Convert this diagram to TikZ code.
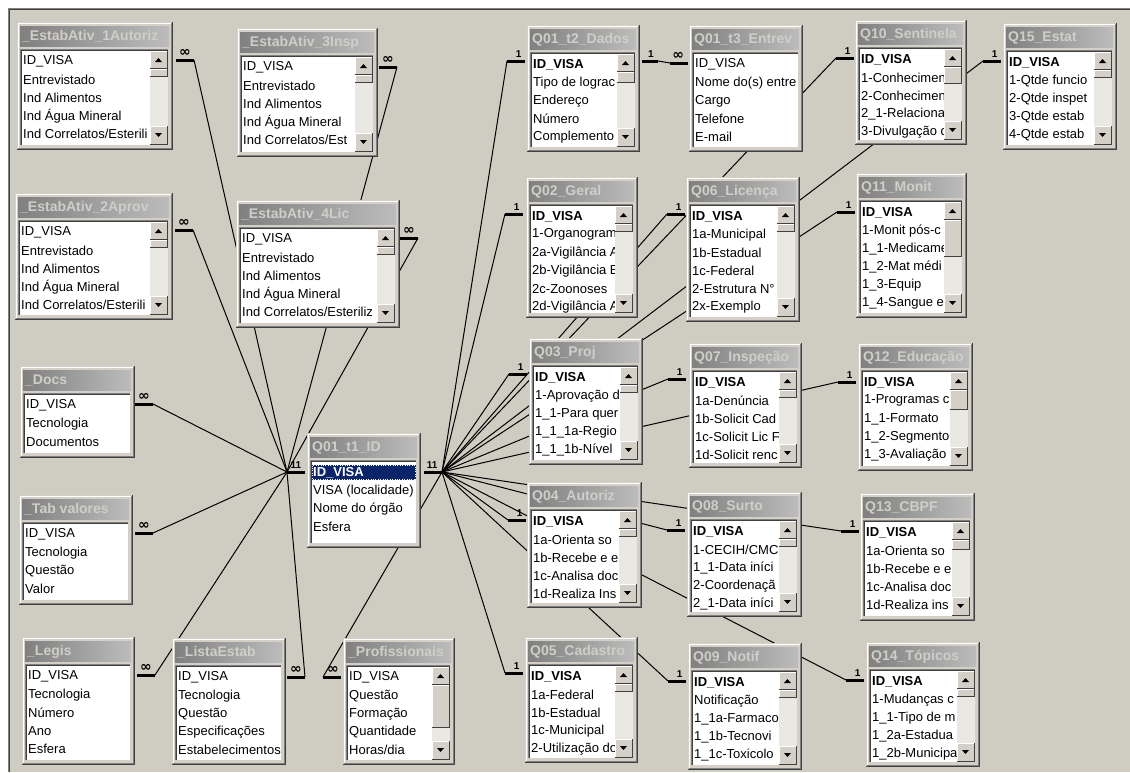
\documentclass[tikz,border=0pt]{standalone}
\usepackage{fontspec}
\setmainfont{Liberation Sans}
\newfontfamily\infont{DejaVu Sans}
\newcommand{\manysign}{{\infont\bfseries\fontsize{14}{14}\selectfont ∞}}

\definecolor{deskbg}{RGB}{207,204,194}
\definecolor{winface}{RGB}{212,208,200}
\definecolor{edgemid}{RGB}{128,128,128}
\definecolor{edgedark}{RGB}{64,64,64}
\definecolor{titleL}{RGB}{128,128,128}
\definecolor{titleR}{RGB}{188,188,188}
\definecolor{titletext}{RGB}{208,206,200}
\definecolor{track}{RGB}{234,232,227}
\definecolor{selblue}{RGB}{10,36,106}

\tikzset{
  tabframe/.style={fill=winface, inner sep=0pt, outer sep=0pt, anchor=north west},
  tabtitle/.style={font=\bfseries\fontsize{14}{14}\selectfont, text=titletext, anchor=west, inner sep=0pt},
  field/.style={font=\fontsize{13}{13}\selectfont, anchor=west, inner sep=0pt},
  rel/.style={line width=1pt},
  stub/.style={line width=3pt},
  card/.style={font=\bfseries\fontsize{10}{10}\selectfont, inner sep=0pt, anchor=south, yshift=2.5pt}
}

% raised 3d button between (#1,#2) and (#3,#4)
\newcommand{\bevel}[4]{%
  \fill[winface] (#1,#2) rectangle (#3,#4);
  \draw[white] (#1+0.5,#4-1) -- (#1+0.5,#2+0.5) -- (#3-1,#2+0.5);
  \draw[edgedark] (#3-0.5,#2) -- (#3-0.5,#4-0.5) -- (#1,#4-0.5);
}

% table window: name, x, y, width, height, title, thumb (0 = no scroll bar), fields
\newcommand{\acctable}[8]{%
  \pgfmathsetmacro\tbR{#2+#4}%
  \pgfmathsetmacro\tbB{#3+#5}%
  \pgfmathsetmacro\tbLx{#2+3}%
  \pgfmathsetmacro\tbLy{#3+27}%
  \pgfmathsetmacro\tbLr{#2+#4-4}%
  \pgfmathsetmacro\tbLb{#3+#5-4}%
  \pgfmathsetmacro\tbSx{\tbLr-19}%
  \pgfmathsetmacro\tbCx{\tbSx+8.5}%
  \pgfmathsetmacro\tbUb{\tbLy+20}%
  \pgfmathsetmacro\tbTb{\tbUb+#7}%
  \pgfmathsetmacro\tbDt{\tbLb-20}%
  \ifnum#7>0\relax\pgfmathsetmacro\tbClip{\tbSx-0.5}\else\pgfmathsetmacro\tbClip{\tbLr-2}\fi
  \node[tabframe, minimum width=#4pt, minimum height=#5pt] (#1) at (#2,#3) {};
  \draw[white] (#2+1,\tbB-2) -- (#2+1,#3+1) -- (\tbR-2,#3+1);
  \draw[edgemid] (\tbR-1.5,#3+1) -- (\tbR-1.5,\tbB-1.5) -- (#2+1,\tbB-1.5);
  \draw[edgedark] (\tbR-0.5,#3) -- (\tbR-0.5,\tbB-0.5) -- (#2,\tbB-0.5);
  % title bar
  \shade[left color=titleL, right color=titleR] (#2+3,#3+4) rectangle (\tbR-4,#3+24);
  \begin{scope}
    \clip (#2+3,#3+4) rectangle (\tbR-4,#3+24);
    \node[tabtitle] (#1-title) at (#2+5,#3+14.5) {#6};
  \end{scope}
  % list box
  \fill[white] (\tbLx,\tbLy) rectangle (\tbLr,\tbLb);
  \draw[edgemid] (\tbLx+0.5,\tbLb) -- (\tbLx+0.5,\tbLy+0.5) -- (\tbLr,\tbLy+0.5);
  \draw[edgedark] (\tbLx+1.5,\tbLb-1) -- (\tbLx+1.5,\tbLy+1.5) -- (\tbLr-1,\tbLy+1.5);
  \draw[winface] (\tbLr-0.5,\tbLy) -- (\tbLr-0.5,\tbLb-0.5) -- (\tbLx,\tbLb-0.5);
  % scroll bar
  \ifnum#7>0\relax
    \fill[track] (\tbSx,\tbLy+2) rectangle (\tbLr-1.5,\tbLb-1.5);
    \bevel{\tbSx}{\tbLy+2}{\tbLr-1.5}{\tbUb}
    \bevel{\tbSx}{\tbUb}{\tbLr-1.5}{\tbTb}
    \bevel{\tbSx}{\tbDt}{\tbLr-1.5}{\tbLb-1.5}
    \fill (\tbCx-3.5,\tbLy+13) -- (\tbCx+3.5,\tbLy+13) -- (\tbCx,\tbLy+9) -- cycle;
    \fill (\tbCx-3.5,\tbDt+7) -- (\tbCx+3.5,\tbDt+7) -- (\tbCx,\tbDt+11) -- cycle;
  \fi
  % fields
  \begin{scope}
    \clip (\tbLx+2,\tbLy+2) rectangle (\tbClip,\tbLb-1.5);
    \foreach \f [count=\i from 0] in {#8}
      \node[field] (#1-f\i) at (#2+6,#3+39.5+18.2*\i) {\f};
  \end{scope}
}

\begin{document}
\begin{tikzpicture}[x=1pt, y=-1pt]
  \useasboundingbox (0,0) rectangle (1130,772);
  \fill[white] (0,0) rectangle (1130,772);
  \fill[deskbg] (9,9) rectangle (1130,772);
  \draw[edgemid] (8.5,772) -- (8.5,8.5) -- (1130,8.5);
  \draw[edgedark] (9.5,772) -- (9.5,9.5) -- (1130,9.5);

  % join points
  \coordinate (hubL) at (287,472);
  \coordinate (hubR) at (442,472);
  \coordinate (e-ea1) at (194,60);
  \coordinate (e-ea3) at (397,67);
  \coordinate (e-ea2) at (193,230);
  \coordinate (e-ea4) at (418,238);
  \coordinate (e-docs) at (153,404);
  \coordinate (e-tabval) at (153,533);
  \coordinate (e-legis) at (155,675);
  \coordinate (e-lista) at (305,677);
  \coordinate (e-prof) at (323,677);
  \coordinate (e-t2) at (507,61);
  \coordinate (e-t2r) at (658,61);
  \coordinate (e-t3) at (670,63);
  \coordinate (e-q02) at (505,214);
  \coordinate (e-q03) at (509,374);
  \coordinate (e-q04) at (508,520);
  \coordinate (e-q05) at (505,673);
  \coordinate (e-q06) at (667,214);
  \coordinate (e-q07) at (668,379);
  \coordinate (e-q08) at (667,530);
  \coordinate (e-q09) at (668,681);
  \coordinate (e-q10) at (836,58);
  \coordinate (e-q11) at (837,212);
  \coordinate (e-q12) at (838,382);
  \coordinate (e-q13) at (841,531);
  \coordinate (e-q14) at (846,680);
  \coordinate (e-q15) at (983,61);

  % relationships
  \foreach \tn in {ea1,ea2,ea3,ea4,docs,tabval,legis,lista}
    \draw[rel] (hubL) -- (e-\tn);
  \foreach \tn in {t2,q02,q03,q04,q05,q06,q07,q08,q09,q10,q11,q12,q13,q14,q15,prof}
    \draw[rel] (hubR) -- (e-\tn);
  \draw[rel] (e-t2r) -- (e-t3);

  % end marks
  \foreach \tn in {t2,q02,q03,q04,q05,q06,q07,q08,q09,q10,q11,q12,q13,q14,q15}
    \draw[stub] (e-\tn) -- ++(18,0) node[card, pos=0.65] (c-\tn) {1};
  \foreach \tn in {ea1,ea2,ea3,ea4,docs,tabval,legis,lista}
    \draw[stub] (e-\tn) -- ++(-18,0) node[card, pos=0.5] (c-\tn) {\manysign};
  \draw[stub] (e-prof) -- ++(18,0) node[card, pos=0.55] (c-prof) {\manysign};
  \draw[stub] (e-t3) -- ++(18,0) node[card, pos=0.45] (c-t3) {\manysign};
  \draw[stub] (e-t2r) -- ++(-16,0) node[card, pos=0.45] (c-t2r) {1};
  \draw[stub] (hubL) -- ++(18,0) node[card, pos=0.5] (c-hubL) {11};
  \draw[stub] (hubR) -- ++(-18,0) node[card, pos=0.55] (c-hubR) {11};

  % tables, left side
  \acctable{ea1}{17}{22}{156}{128}{\_EstabAtiv\_1Autoriz}{8}{ID\_VISA, Entrevistado, Ind Alimentos, Ind Água Mineral, Ind Correlatos/Esterili}
  \acctable{ea3}{237}{28}{141}{129}{\_EstabAtiv\_3Insp}{8}{ID\_VISA, Entrevistado, Ind Alimentos, Ind Água Mineral, Ind Correlatos/Est}
  \acctable{ea2}{15}{193}{158}{127}{\_EstabAtiv\_2Aprov}{8}{ID\_VISA, Entrevistado, Ind Alimentos, Ind Água Mineral, Ind Correlatos/Esterili}
  \acctable{ea4}{236}{200}{164}{128}{\_EstabAtiv\_4Lic}{8}{ID\_VISA, Entrevistado, Ind Alimentos, Ind Água Mineral, Ind Correlatos/Esteriliz}
  \acctable{docs}{20}{366}{115}{92}{\_Docs}{0}{ID\_VISA, Tecnologia, Documentos}
  \acctable{tabval}{19}{495}{114}{110}{\_Tab valores}{0}{ID\_VISA, Tecnologia, Questão, Valor}
  \acctable{legis}{22}{637}{113}{128}{\_Legis}{0}{ID\_VISA, Tecnologia, Número, Ano, Esfera}
  \acctable{lista}{172}{638}{114}{127}{\_ListaEstab}{0}{ID\_VISA, Tecnologia, Questão, Especificações, Estabelecimentos}
  \acctable{prof}{343}{638}{112}{127}{\_Profissionais}{43}{ID\_VISA, Questão, Formação, Quantidade, Horas/dia}

  % central table
  \acctable{t1}{307}{433}{114}{115}{Q01\_t1\_ID}{0}{ID\_VISA, VISA (localidade), Nome do órgão, Esfera}
  \fill[selblue] (312,465) rectangle (416,480);
  \draw[white, dotted] (312.5,465.5) rectangle (415.5,479.5);
  \node[field, text=white, font=\bfseries\fontsize{13}{13}\selectfont] (t1-key) at (313,472.5) {ID\_VISA};

  % tables, right side
  \acctable{t2}{527}{25}{113}{127}{Q01\_t2\_Dados}{11}{{\bfseries ID\_VISA}, Tipo de lograc, Endereço, Número, Complemento}
  \acctable{t3}{689}{25}{114}{127}{Q01\_t3\_Entrev}{0}{ID\_VISA, Nome do(s) entre, Cargo, Telefone, E-mail}
  \acctable{q02}{526}{177}{112}{141}{Q02\_Geral}{8}{{\bfseries ID\_VISA}, 1-Organogram, 2a-Vigilância A, 2b-Vigilância E, 2c-Zoonoses, 2d-Vigilância A}
  \acctable{q06}{686}{177}{114}{145}{Q06\_Licença}{8}{{\bfseries ID\_VISA}, 1a-Municipal, 1b-Estadual, 1c-Federal, 2-Estrutura N°, 2x-Exemplo}
  \acctable{q10}{855}{20}{112}{125}{Q10\_Sentinela}{17}{{\bfseries ID\_VISA}, 1-Conhecimen, 2-Conhecimen, 2\_1-Relaciona, 3-Divulgação d}
  \acctable{q15}{1003}{23}{114}{127}{Q15\_Estat}{8}{{\bfseries ID\_VISA}, 1-Qtde funcio, 2-Qtde inspet, 3-Qtde estab, 4-Qtde estab}
  \acctable{q11}{856}{173}{111}{145}{Q11\_Monit}{37}{{\bfseries ID\_VISA}, 1-Monit pós-c, 1\_1-Medicame, 1\_2-Mat médi, 1\_3-Equip, 1\_4-Sangue e}
  \acctable{q03}{529}{338}{114}{127}{Q03\_Proj}{8}{{\bfseries ID\_VISA}, 1-Aprovação d, 1\_1-Para quer, 1\_1\_1a-Regio, 1\_1\_1b-Nível}
  \acctable{q07}{689}{343}{113}{125}{Q07\_Inspeção}{8}{{\bfseries ID\_VISA}, 1a-Denúncia, 1b-Solicit Cad, 1c-Solicit Lic F, 1d-Solicit renc}
  \acctable{q12}{858}{343}{115}{128}{Q12\_Educação}{20}{{\bfseries ID\_VISA}, 1-Programas c, 1\_1-Formato, 1\_2-Segmento, 1\_3-Avaliação}
  \acctable{q04}{527}{482}{115}{126}{Q04\_Autoriz}{8}{{\bfseries ID\_VISA}, 1a-Orienta so, 1b-Recebe e e, 1c-Analisa doc, 1d-Realiza Ins}
  \acctable{q08}{687}{492}{115}{125}{Q08\_Surto}{8}{{\bfseries ID\_VISA}, 1-CECIH/CMC, 1\_1-Data iníci, 2-Coordenaçã, 2\_1-Data iníci}
  \acctable{q13}{860}{493}{115}{128}{Q13\_CBPF}{10}{{\bfseries ID\_VISA}, 1a-Orienta so, 1b-Recebe e e, 1c-Analisa doc, 1d-Realiza ins}
  \acctable{q05}{525}{637}{113}{126}{Q05\_Cadastro}{8}{{\bfseries ID\_VISA}, 1a-Federal, 1b-Estadual, 1c-Municipal, 2-Utilização do}
  \acctable{q09}{688}{643}{114}{127}{Q09\_Notif}{8}{{\bfseries ID\_VISA}, Notificação, 1\_1a-Farmaco, 1\_1b-Tecnovi, 1\_1c-Toxicolo}
  \acctable{q14}{866}{642}{114}{125}{Q14\_Tópicos}{8}{{\bfseries ID\_VISA}, 1-Mudanças c, 1\_1-Tipo de m, 1\_2a-Estadua, 1\_2b-Municipa}
\end{tikzpicture}
\end{document}
